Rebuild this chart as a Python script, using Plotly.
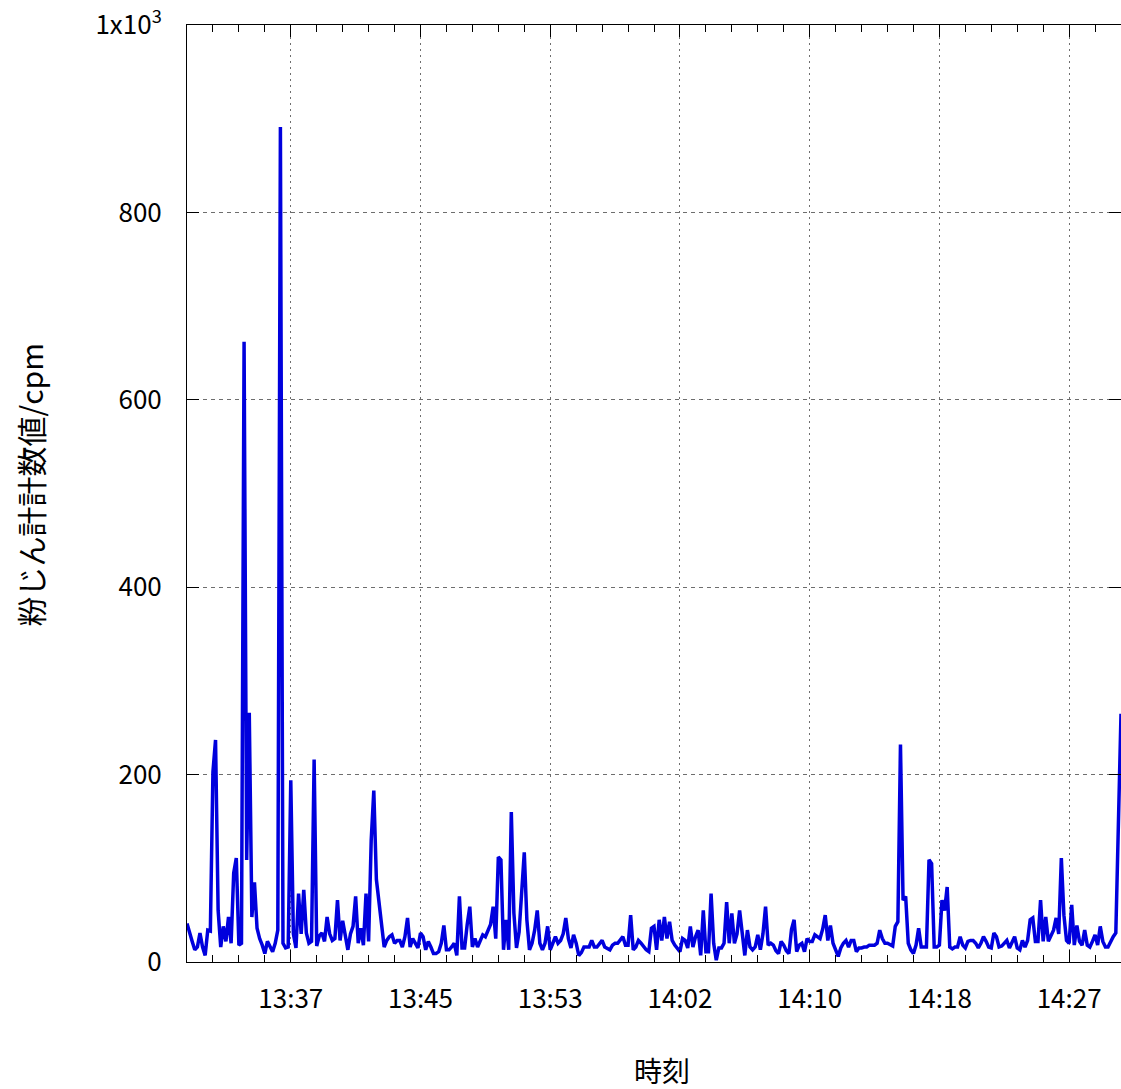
import pandas as pd
import plotly.graph_objects as go

start_time = "2024-01-01 13:30:00"
sample_interval = "10s"
dust_cpm = [
    41, 30, 22, 13, 16, 31, 16, 7, 34, 33,
    203, 237, 55, 16, 38, 22, 48, 20, 95, 111,
    18, 20, 662, 109, 266, 48, 85, 36, 25, 18,
    9, 22, 16, 11, 20, 34, 891, 20, 15, 16,
    194, 30, 15, 73, 30, 77, 31, 20, 22, 216,
    17, 28, 31, 22, 48, 30, 23, 25, 66, 23,
    44, 30, 13, 30, 38, 70, 20, 36, 18, 73,
    22, 130, 183, 88, 63, 38, 16, 23, 27, 29,
    20, 23, 23, 16, 27, 47, 16, 25, 20, 15,
    31, 27, 13, 22, 16, 9, 9, 11, 20, 39,
    13, 13, 16, 20, 7, 70, 15, 15, 40, 59,
    16, 25, 16, 23, 29, 27, 34, 40, 59, 25,
    112, 109, 13, 45, 13, 160, 52, 15, 32, 70,
    117, 45, 13, 20, 34, 55, 20, 13, 20, 38,
    13, 20, 27, 20, 23, 30, 47, 25, 15, 29,
    20, 7, 10, 16, 16, 16, 23, 16, 16, 20,
    23, 16, 15, 13, 18, 20, 20, 23, 27, 18,
    18, 50, 13, 16, 23, 20, 16, 13, 11, 36,
    38, 13, 45, 23, 48, 25, 43, 23, 18, 15,
    11, 25, 23, 15, 38, 16, 27, 34, 7, 55,
    11, 11, 73, 20, 2, 15, 15, 20, 64, 20,
    52, 20, 30, 55, 27, 7, 34, 16, 13, 16,
    29, 13, 30, 59, 18, 20, 18, 12, 9, 22,
    18, 12, 9, 35, 45, 11, 18, 20, 11, 25,
    22, 22, 29, 27, 25, 35, 50, 23, 39, 20,
    13, 6, 15, 20, 23, 16, 23, 23, 11, 15,
    15, 16, 16, 18, 18, 18, 20, 34, 25, 20,
    20, 18, 17, 38, 43, 232, 66, 70, 20, 13,
    9, 18, 36, 16, 16, 16, 109, 105, 16, 16,
    18, 66, 55, 80, 16, 14, 16, 16, 27, 18,
    15, 22, 23, 23, 20, 15, 20, 27, 22, 16,
    15, 31, 27, 16, 17, 20, 23, 15, 22, 27,
    15, 13, 23, 16, 23, 45, 47, 22, 22, 66,
    22, 48, 22, 29, 34, 47, 30, 111, 50, 23,
    20, 61, 18, 39, 22, 18, 34, 18, 16, 22,
    29, 18, 38, 22, 16, 16, 22, 27, 31, 137,
    265,
]
x_tick_times = ["2024-01-01 13:36:40", "2024-01-01 13:45:00", "2024-01-01 13:53:20",
                "2024-01-01 14:01:40", "2024-01-01 14:10:00", "2024-01-01 14:18:20",
                "2024-01-01 14:26:40"]
x_tick_labels = ["13:37", "13:45", "13:53", "14:02", "14:10", "14:18", "14:27"]
y_tick_vals = [0, 200, 400, 600, 800, 1000]
y_tick_labels = ["0", "200", "400", "600", "800", "1x10<sup>3</sup>"]
x_range = ["2024-01-01 13:30:00", "2024-01-01 14:30:00"]
x_title = "時刻"
y_title = "粉じん計計数値/cpm"

times = pd.date_range(start_time, periods=len(dust_cpm), freq=sample_interval)

FONT = "Noto Sans CJK JP"

fig = go.Figure()
fig.add_trace(go.Scatter(x=times, y=dust_cpm, mode="lines",
                         line=dict(color="#0000dd", width=3.5), showlegend=False))

fig.update_layout(
    width=1121, height=1089,
    margin=dict(l=187, r=0, t=25, b=127),
    plot_bgcolor="white", paper_bgcolor="white",
    font=dict(family=FONT, size=26, color="black"),
)
fig.update_xaxes(
    type="date", range=x_range, automargin=False,
    tickvals=x_tick_times, ticktext=x_tick_labels,
    ticks="inside", ticklen=12, tickcolor="black", tickwidth=1,
    showline=True, linecolor="black", linewidth=1, mirror="ticks",
    showgrid=True, gridcolor="#6e6e6e", gridwidth=1, griddash="2px,4px",
    zeroline=False,
    minor=dict(ticks="inside", ticklen=7, tickcolor="black", dtick=100000,
               tick0="2024-01-01 13:30:00", showgrid=False),
    ticklabelstandoff=14,
)
fig.update_yaxes(
    range=[0, 1000], automargin=False,
    tickvals=y_tick_vals, ticktext=y_tick_labels,
    ticks="inside", ticklen=12, tickcolor="black", tickwidth=1,
    showline=True, linecolor="black", linewidth=1, mirror="ticks",
    showgrid=True, gridcolor="#6e6e6e", gridwidth=1, griddash="4px,4px",
    zeroline=False,
    ticklabelstandoff=19,
)
fig.add_annotation(text=x_title, xref="paper", yref="paper", x=0.5, y=0,
                   xanchor="center", yanchor="middle", yshift=-108, xshift=8,
                   showarrow=False, font=dict(size=28, family=FONT))
fig.add_annotation(text=y_title, xref="paper", yref="paper", x=0, y=0.5,
                   xanchor="center", yanchor="middle", xshift=-158, yshift=8,
                   textangle=-90,
                   showarrow=False, font=dict(size=30, family=FONT))

fig.write_html(
    "out.html",
    config={"displayModeBar": False},
    post_script="document.body.style.margin='0';document.body.style.padding='0';"
                "document.documentElement.style.overflow='hidden';",
)
